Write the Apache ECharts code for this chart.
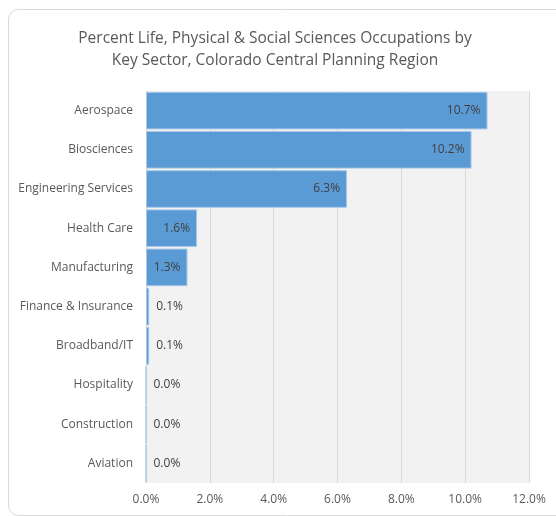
<!DOCTYPE html>
<html>
<head>
<meta charset="utf-8">
<script src="https://cdn.jsdelivr.net/npm/echarts@6/dist/echarts.min.js"></script>
<style>html,body{margin:0;padding:0;background:#fff;}#c{width:556px;height:516px;}</style>
</head>
<body>
<div id="c"></div>
<script>
const titleText = 'Percent Life, Physical & Social Sciences Occupations by\nKey Sector, Colorado Central Planning Region';
const categories = ['Aerospace','Biosciences','Engineering Services','Health Care','Manufacturing','Finance & Insurance','Broadband/IT','Hospitality','Construction','Aviation'];
const values = [10.7, 10.2, 6.3, 1.6, 1.3, 0.1, 0.1, 0.0, 0.0, 0.0];
const xTicks = [0, 2, 4, 6, 8, 10, 12];

const font = '"Open Sans", "Noto Sans", sans-serif';
const chart = echarts.init(document.getElementById('c'), null, {renderer: 'canvas'});
chart.setOption({
  animation: false,
  backgroundColor: '#fff',
  graphic: [{
    type: 'rect', left: 8, top: 9, z: -10,
    shape: {width: 560, height: 506, r: 10},
    style: {fill: '#fff', stroke: '#d9d9d9', lineWidth: 1}
  }],
  title: {
    text: titleText, left: 270, top: 23, textAlign: 'center',
    textStyle: {fontFamily: font, fontSize: 15.5, fontWeight: 'normal', color: '#595959', lineHeight: 22}
  },
  grid: {left: 146, right: 27, top: 91, bottom: 33, show: true, backgroundColor: '#f2f2f2', borderWidth: 0},
  xAxis: {
    type: 'value', min: xTicks[0], max: xTicks[xTicks.length - 1], interval: 2,
    axisLine: {show: false}, axisTick: {show: false},
    splitLine: {show: true, lineStyle: {color: '#d9d9d9', width: 1}},
    axisLabel: {formatter: v => v.toFixed(1) + '%', color: '#595959', fontFamily: font, fontSize: 12, margin: 11}
  },
  yAxis: {
    type: 'category', data: categories, inverse: true,
    axisLine: {show: true, lineStyle: {color: '#d9d9d9'}}, axisTick: {show: false},
    axisLabel: {color: '#595959', fontFamily: font, fontSize: 12, margin: 13}
  },
  series: [{
    type: 'bar',
    data: values.map(v => ({
      value: v,
      label: {position: v >= 1 ? 'insideRight' : 'right', distance: 7}
    })),
    barCategoryGap: '4%',
    itemStyle: {color: '#5b9bd5', borderColor: '#a9c8e8', borderWidth: 1},
    label: {show: true, formatter: p => p.value.toFixed(1) + '%', color: '#404040', fontFamily: font, fontSize: 12}
  }]
});
</script>
</body>
</html>
